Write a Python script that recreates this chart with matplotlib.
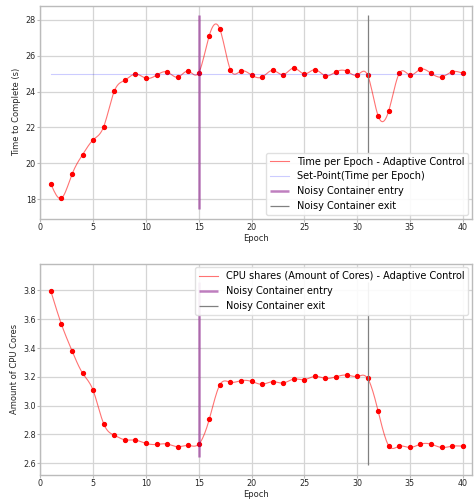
import numpy as np
import matplotlib
matplotlib.use("Agg")
import matplotlib.pyplot as plt

epochs = list(range(1, 41))

time_per_epoch = [18.85, 18.07, 19.40, 20.49, 21.31, 22.05, 24.02, 24.63, 24.98, 24.74,
                  24.91, 25.09, 24.80, 25.14, 25.05, 27.12, 27.48, 25.22, 25.14, 24.92,
                  24.81, 25.18, 24.94, 25.31, 24.98, 25.22, 24.88, 25.10, 25.14, 24.92,
                  24.91, 22.64, 22.93, 25.02, 24.92, 25.24, 25.02, 24.81, 25.10, 25.02]

cpu_shares = [3.793, 3.564, 3.380, 3.225, 3.105, 2.873, 2.794, 2.762, 2.760, 2.737,
              2.730, 2.733, 2.714, 2.723, 2.732, 2.905, 3.144, 3.162, 3.173, 3.168,
              3.148, 3.166, 3.157, 3.184, 3.180, 3.203, 3.189, 3.200, 3.212, 3.203,
              3.189, 2.960, 2.721, 2.718, 2.709, 2.732, 2.732, 2.709, 2.718, 2.718]

set_point = 25
noise_entry = 15
noise_exit = 31


def smooth(x, y, n=400):
    # natural cubic spline, drawn only for the line
    x = np.asarray(x, float)
    y = np.asarray(y, float)
    h = np.diff(x)
    m = len(x)
    A = np.zeros((m, m))
    b = np.zeros(m)
    A[0, 0] = A[-1, -1] = 1
    for i in range(1, m - 1):
        A[i, i - 1] = h[i - 1]
        A[i, i] = 2 * (h[i - 1] + h[i])
        A[i, i + 1] = h[i]
        b[i] = 3 * ((y[i + 1] - y[i]) / h[i] - (y[i] - y[i - 1]) / h[i - 1])
    c = np.linalg.solve(A, b)
    bb = (y[1:] - y[:-1]) / h - h * (2 * c[:-1] + c[1:]) / 3
    d = (c[1:] - c[:-1]) / (3 * h)
    xs = np.linspace(x[0], x[-1], n)
    idx = np.clip(np.searchsorted(x, xs) - 1, 0, m - 2)
    dx = xs - x[idx]
    ys = y[idx] + bb[idx] * dx + c[idx] * dx**2 + d[idx] * dx**3
    return xs, ys


plt.rcParams.update({
    "font.family": "DejaVu Sans",
    "font.size": 6,
    "axes.labelsize": 6,
    "xtick.labelsize": 5.75,
    "ytick.labelsize": 5.75,
    "axes.edgecolor": "#bbbbbb",
    "axes.linewidth": 1.0,
    "axes.labelcolor": "#262626",
    "xtick.color": "#bbbbbb",
    "ytick.color": "#bbbbbb",
    "xtick.labelcolor": "#262626",
    "ytick.labelcolor": "#262626",
    "xtick.major.size": 2,
    "ytick.major.size": 2,
    "xtick.major.width": 0.8,
    "ytick.major.width": 0.8,
    "xtick.major.pad": 1.2,
    "ytick.major.pad": 1.2,
    "grid.color": "#d5d5d5",
    "grid.linewidth": 0.9,
})

fig = plt.figure(figsize=(4.75, 5.01), dpi=100)
ax1 = fig.add_axes([0.085, 0.563, 0.909, 0.426])
ax2 = fig.add_axes([0.085, 0.052, 0.909, 0.422])

# top: time per epoch
xs, ys = smooth(epochs, time_per_epoch)
ax1.plot(xs, ys, color="red", alpha=0.55, lw=0.8, label="Time per Epoch - Adaptive Control")
ax1.plot(epochs, time_per_epoch, "o", color="red", ms=2.8)
ax1.plot([epochs[0], epochs[-1]], [set_point, set_point], color="blue", alpha=0.2, lw=0.8,
         label="Set-Point(Time per Epoch)")
ax1.vlines(noise_entry, 17.45, 28.25, color="purple", alpha=0.5, lw=1.8, label="Noisy Container entry")
ax1.vlines(noise_exit, 17.45, 28.25, color="gray", lw=0.9, label="Noisy Container exit")
ax1.set_xlim(0, 40.9)
ax1.set_ylim(16.91, 28.79)
ax1.set_yticks([18, 20, 22, 24, 26, 28])
ax1.set_xticks([0, 5, 10, 15, 20, 25, 30, 35, 40])
ax1.grid(True)
ax1.set_axisbelow(True)
ax1.set_xlabel("Epoch", labelpad=1)
ax1.set_ylabel("Time to Complete (s)", labelpad=3)
ax1.legend(loc="lower right", fontsize=7, framealpha=0.9, edgecolor="#dddddd",
           borderaxespad=0.4, handlelength=2.0)

# bottom: cpu shares
xs, ys = smooth(epochs, cpu_shares)
ax2.plot(xs, ys, color="red", alpha=0.55, lw=0.8, label="CPU shares (Amount of Cores) - Adaptive Control")
ax2.plot(epochs, cpu_shares, "o", color="red", ms=2.8)
ax2.vlines(noise_entry, 2.645, 3.857, color="purple", alpha=0.5, lw=1.8, label="Noisy Container entry")
ax2.vlines(noise_exit, 2.59, 3.857, color="gray", lw=0.9, label="Noisy Container exit")
ax2.set_xlim(0, 40.9)
ax2.set_ylim(2.518, 3.987)
ax2.set_yticks([2.6, 2.8, 3.0, 3.2, 3.4, 3.6, 3.8])
ax2.set_xticks([0, 5, 10, 15, 20, 25, 30, 35, 40])
ax2.grid(True)
ax2.set_axisbelow(True)
ax2.set_xlabel("Epoch", labelpad=1)
ax2.set_ylabel("Amount of CPU Cores", labelpad=3)
ax2.legend(loc="upper right", fontsize=7, framealpha=0.9, edgecolor="#dddddd",
           borderaxespad=0.4, handlelength=2.0)

fig.savefig("out.png", dpi=100)
